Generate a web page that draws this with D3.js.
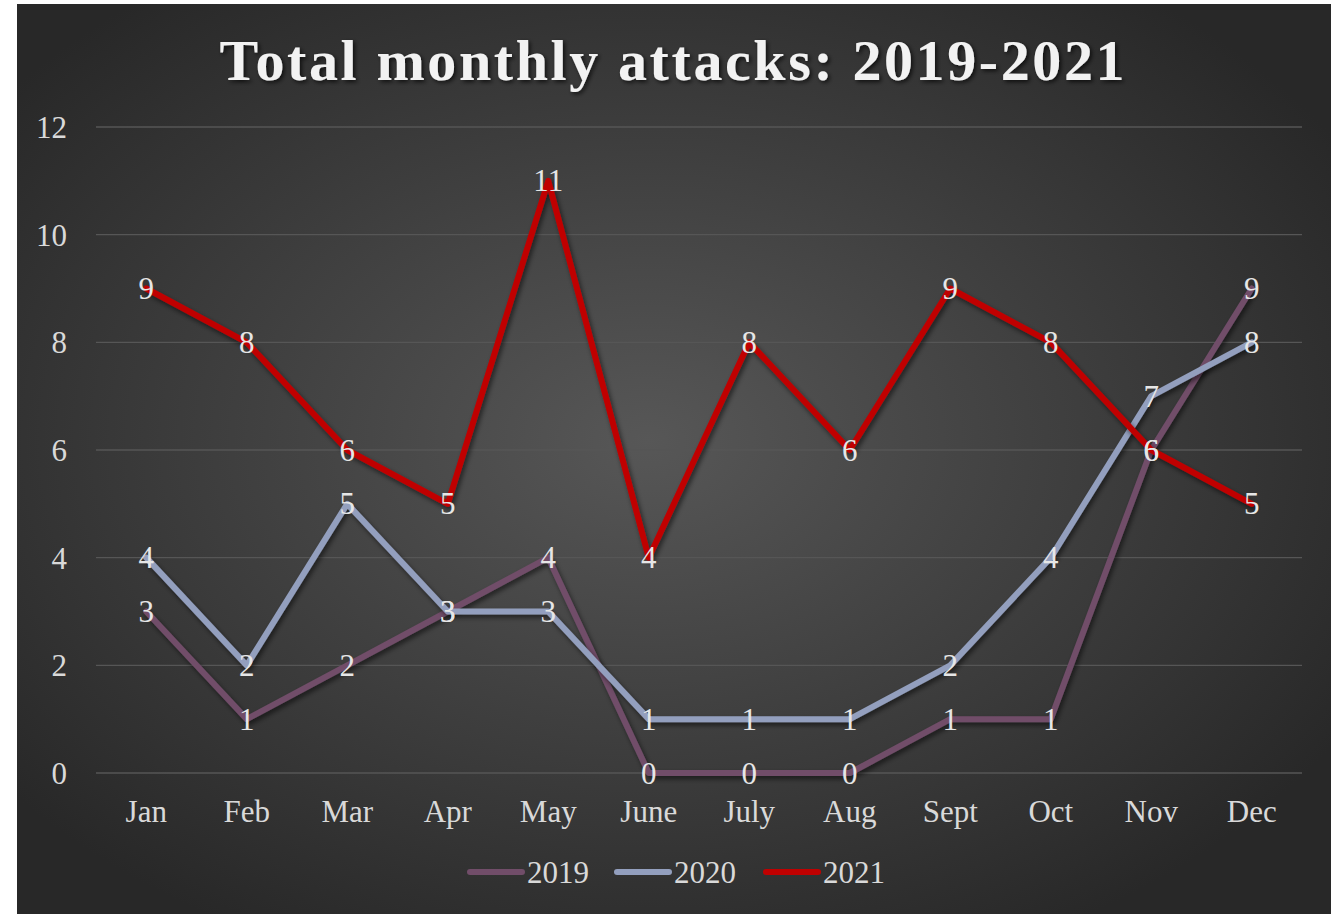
<!DOCTYPE html>
<html>
<head>
<meta charset="utf-8">
<script src="https://cdn.jsdelivr.net/npm/d3@7"></script>
<style>
  body { margin: 0; background: #fff; }
  svg { display: block; }
  text { font-family: "Liberation Serif", "DejaVu Serif", serif; }
</style>
</head>
<body>
<svg id="chart" width="1338" height="914"></svg>
<script>
var months = ["Jan", "Feb", "Mar", "Apr", "May", "June", "July", "Aug", "Sept", "Oct", "Nov", "Dec"];
var attacks2019 = [3, 1, 2, 3, 4, 0, 0, 0, 1, 1, 6, 9];
var attacks2020 = [4, 2, 5, 3, 3, 1, 1, 1, 2, 4, 7, 8];
var attacks2021 = [9, 8, 6, 5, 11, 4, 8, 6, 9, 8, 6, 5];
var yTicks = [0, 2, 4, 6, 8, 10, 12];

var series = [
  { name: "2019", values: attacks2019, color: "#714d69" },
  { name: "2020", values: attacks2020, color: "#939fbe" },
  { name: "2021", values: attacks2021, color: "#c00000" }
];

var svg = d3.select("#chart");
var defs = svg.append("defs");

var grad = defs.append("radialGradient").attr("id", "bg")
  .attr("cx", "48%").attr("cy", "48%").attr("r", "62%");
grad.append("stop").attr("offset", "0%").attr("stop-color", "#575757");
grad.append("stop").attr("offset", "100%").attr("stop-color", "#282828");

var shadow = defs.append("filter").attr("id", "shadow")
  .attr("x", "-10%").attr("y", "-10%").attr("width", "120%").attr("height", "130%");
shadow.append("feDropShadow").attr("dx", 2).attr("dy", 3).attr("stdDeviation", 2.5)
  .attr("flood-color", "#000").attr("flood-opacity", 0.55);

var tshadow = defs.append("filter").attr("id", "tshadow");
tshadow.append("feDropShadow").attr("dx", 2).attr("dy", 2).attr("stdDeviation", 2)
  .attr("flood-color", "#000").attr("flood-opacity", 0.7);

svg.append("rect").attr("x", 17).attr("y", 4).attr("width", 1314).attr("height", 910)
  .attr("fill", "url(#bg)");

var plotLeft = 96, plotRight = 1302, plotTop = 127, plotBottom = 773;

var x = d3.scaleBand().domain(months).range([plotLeft, plotRight]);
var y = d3.scaleLinear().domain([0, 12]).range([plotBottom, plotTop]);

// title
svg.append("text")
  .attr("x", 672).attr("y", 80)
  .attr("text-anchor", "middle")
  .attr("font-size", 58).attr("font-weight", "bold")
  .attr("textLength", 905).attr("lengthAdjust", "spacing")
  .attr("fill", "#f2f2f2")
  .attr("filter", "url(#tshadow)")
  .text("Total monthly attacks: 2019-2021");

// gridlines
svg.append("g").selectAll("line").data(yTicks).join("line")
  .attr("x1", plotLeft).attr("x2", plotRight)
  .attr("y1", function(d){ return y(d); }).attr("y2", function(d){ return y(d); })
  .attr("stroke", "#565656").attr("stroke-width", 1.3);

// y axis
var yAxis = svg.append("g").attr("transform", "translate(67,0)")
  .call(d3.axisLeft(y).tickValues(yTicks).tickSize(0).tickPadding(0));
yAxis.select(".domain").remove();
yAxis.selectAll("text").attr("font-size", 31).attr("fill", "#d9d9d9")
  .attr("font-family", "Liberation Serif, serif").attr("dy", "0.34em");

// x axis
var xAxis = svg.append("g").attr("transform", "translate(0," + plotBottom + ")")
  .call(d3.axisBottom(x).tickSize(0).tickPadding(0));
xAxis.select(".domain").remove();
xAxis.selectAll("text").attr("font-size", 31).attr("fill", "#d9d9d9")
  .attr("font-family", "Liberation Serif, serif").attr("y", 49).attr("dy", 0);

var line = d3.line()
  .x(function(d, i){ return x(months[i]) + x.bandwidth() / 2; })
  .y(function(d){ return y(d); });

svg.append("g").selectAll("path").data(series).join("path")
  .attr("d", function(s){ return line(s.values); })
  .attr("fill", "none")
  .attr("stroke", function(s){ return s.color; })
  .attr("stroke-width", 6)
  .attr("stroke-linejoin", "round")
  .attr("stroke-linecap", "round")
  .attr("filter", "url(#shadow)");

// data labels
series.forEach(function(s){
  svg.append("g").selectAll("text").data(s.values).join("text")
    .attr("x", function(d, i){ return x(months[i]) + x.bandwidth() / 2; })
    .attr("y", function(d){ return y(d); })
    .attr("dy", "0.34em")
    .attr("text-anchor", "middle")
    .attr("font-size", 31)
    .attr("fill", "#e6e6e6")
    .text(function(d){ return d; });
});

// legend
var legendX = [467, 614, 763];
var legend = svg.append("g").selectAll("g").data(series).join("g")
  .attr("transform", function(s, i){ return "translate(" + legendX[i] + ",872)"; });
legend.append("line")
  .attr("x1", 3).attr("x2", 55).attr("y1", 0).attr("y2", 0)
  .attr("stroke", function(s){ return s.color; })
  .attr("stroke-width", 6).attr("stroke-linecap", "round");
legend.append("text")
  .attr("x", 60).attr("y", 11)
  .attr("font-size", 31).attr("fill", "#d9d9d9")
  .text(function(s){ return s.name; });
</script>
</body>
</html>
